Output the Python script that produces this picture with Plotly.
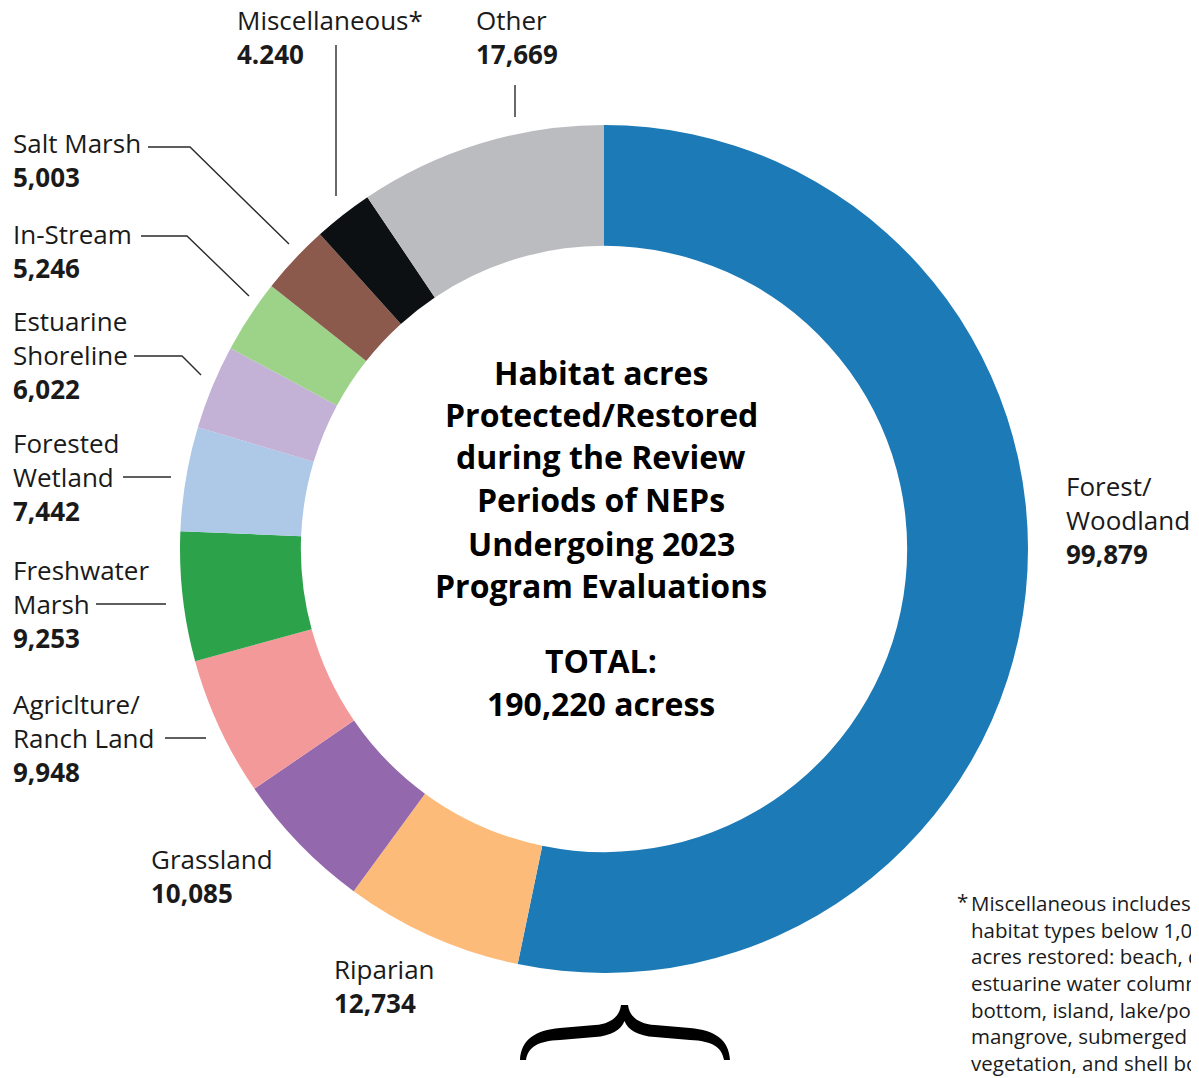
import plotly.graph_objects as go

# ---- data ----
categories = ["Forest/Woodland", "Riparian", "Grassland", "Agriculture/Ranch Land",
              "Freshwater Marsh", "Forested Wetland", "Estuarine Shoreline",
              "In-Stream", "Salt Marsh", "Miscellaneous*", "Other"]
values = [99879, 12734, 10085, 9948, 9253, 7442, 6022, 5246, 5003, 4240, 17669]
value_labels = ["99,879", "12,734", "10,085", "9,948", "9,253", "7,442", "6,022",
                "5,246", "5,003", "4.240", "17,669"]
label_names = ["Forest/<br>Woodland", "Riparian", "Grassland", "Agriclture/<br>Ranch Land",
               "Freshwater<br>Marsh", "Forested<br>Wetland", "Estuarine<br>Shoreline",
               "In-Stream", "Salt Marsh", "Miscellaneous*", "Other"]
colors = ["#1c7ab7", "#fdbb7a", "#9468ad", "#f39999", "#2ca34a", "#aec8e7",
          "#c4b1d6", "#9dd389", "#8b5a4d", "#0d1013", "#bbbcbf"]

# page offset of the plot div (body margin) compensated below
OFF = 8
W, H = 1199 - OFF, 1078 - OFF
def px(x): return (x - OFF) / W
def py(y): return 1 - (y - OFF) / H

# ---- layout positions (page pixels) ----
cx, cy, R = 604, 549, 424
label_pos = {  # left x, vertical middle of text block
    "Forest/Woodland": (1065, 520),
    "Riparian": (333, 986),
    "Grassland": (150, 876),
    "Agriculture/Ranch Land": (12, 738),
    "Freshwater Marsh": (12, 604),
    "Forested Wetland": (12, 477),
    "Estuarine Shoreline": (12, 355),
    "In-Stream": (12, 251),
    "Salt Marsh": (12, 160),
    "Miscellaneous*": (236, 37),
    "Other": (475, 37),
}
leaders = [
    [(148, 147), (190, 147), (289, 244)],
    [(141, 236), (187, 236), (249, 296)],
    [(134, 356), (182, 356), (201, 375)],
    [(123, 477), (171, 477)],
    [(96, 604), (166, 604)],
    [(165, 738), (206, 738)],
    [(336, 45), (336, 196)],
    [(515, 85), (515, 117)],
]

FONT = "Open Sans"
fig = go.Figure(go.Pie(
    labels=categories, values=values, sort=False, direction="clockwise",
    rotation=0, hole=0.715, textinfo="none", hoverinfo="label+value",
    marker=dict(colors=colors, line=dict(width=0)),
    domain=dict(x=[px(cx - R), px(cx + R)], y=[py(cy + R), py(cy - R)]),
    showlegend=False,
))

annotations = []
for cat, name, val in zip(categories, label_names, value_labels):
    x, y = label_pos[cat]
    annotations.append(dict(
        x=px(x), y=py(y), xref="paper", yref="paper", xanchor="left", yanchor="middle",
        align="left", showarrow=False, borderpad=0,
        text=f"{name}<br><b>{val}</b>",
        font=dict(family=FONT, size=26, color="#1a1a1a"),
    ))

center_lines = [("Habitat acres", 372), ("Protected/Restored", 414), ("during the Review", 457),
                ("Periods of NEPs", 500), ("Undergoing 2023", 543), ("Program Evaluations", 585),
                ("TOTAL:", 660), ("190,220 acress", 703)]
for txt, y in center_lines:
    annotations.append(dict(
        x=px(601), y=py(y), xref="paper", yref="paper", xanchor="center", yanchor="middle",
        showarrow=False, borderpad=0, text=f"<b>{txt}</b>",
        font=dict(family=FONT, size=32, color="#000000", weight=800),
    ))

annotations.append(dict(x=px(956), y=py(901), xref="paper", yref="paper", xanchor="left",
                        yanchor="middle", showarrow=False, borderpad=0, text="*",
                        font=dict(family=FONT, size=20.5, color="#1a1a1a")))
foot = ("Miscellaneous includes<br>habitat types below 1,000<br>acres restored: beach, dune,"
        "<br>estuarine water column, hard<br>bottom, island, lake/pond,"
        "<br>mangrove, submerged aquatic<br>vegetation, and shell bottom")
annotations.append(dict(x=px(970), y=py(888), xref="paper", yref="paper", xanchor="left",
                        yanchor="top", align="left", showarrow=False, borderpad=0, text=foot,
                        font=dict(family=FONT, size=20.5, color="#1a1a1a")))

shapes = []
for pts in leaders:
    path = "M " + " L ".join(f"{px(x)},{py(y)}" for x, y in pts)
    shapes.append(dict(type="path", path=path, xref="paper", yref="paper",
                       line=dict(color="#2a2a2a", width=1.4)))

# curly brace under the chart
brace = [("M", [(520, 1060)]),
         ("C", [(521, 1040), (535, 1030), (560, 1028)]),
         ("L", [(595, 1025)]),
         ("C", [(612, 1024), (620, 1015), (621, 1005)]),
         ("L", [(628, 1005)]),
         ("C", [(629, 1015), (637, 1024), (655, 1025)]),
         ("L", [(690, 1028)]),
         ("C", [(715, 1030), (729, 1040), (730, 1060)]),
         ("L", [(724, 1060)]),
         ("C", [(722, 1047), (712, 1041), (690, 1040)]),
         ("L", [(655, 1037)]),
         ("C", [(638, 1036), (628, 1030), (624.5, 1021)]),
         ("C", [(621, 1030), (611, 1036), (595, 1037)]),
         ("L", [(560, 1040)]),
         ("C", [(538, 1041), (528, 1047), (526, 1060)])]
bp = " ".join(cmd + " " + " ".join(f"{px(x)},{py(y)}" for x, y in pts) for cmd, pts in brace) + " Z"
shapes.append(dict(type="path", path=bp, xref="paper", yref="paper",
                   fillcolor="#000000", line=dict(width=0)))

fig.update_layout(
    width=W, height=H, margin=dict(l=0, r=0, t=0, b=0),
    paper_bgcolor="white", plot_bgcolor="white",
    annotations=annotations, shapes=shapes,
)
fig.write_html("out.html")
